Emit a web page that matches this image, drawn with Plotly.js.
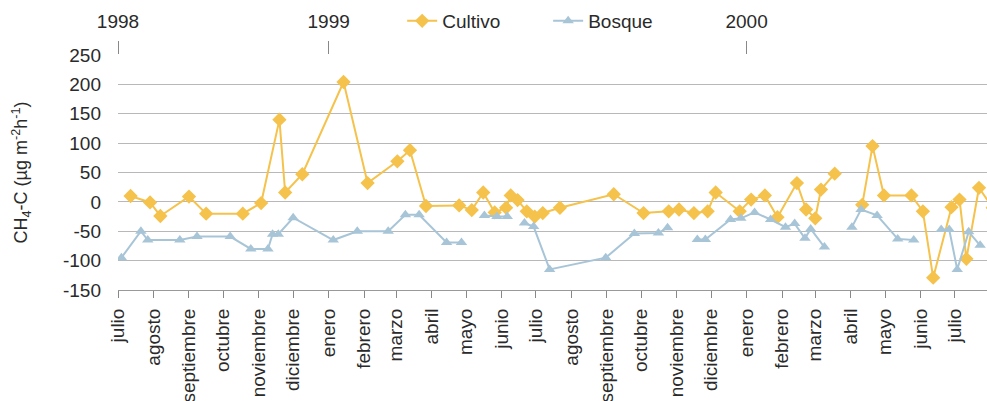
<!DOCTYPE html>
<html>
<head>
<meta charset="utf-8">
<script src="https://cdn.plot.ly/plotly-3.0.1.min.js"></script>
<style>
html,body{margin:0;padding:0;background:#fff;}
#chart{width:987px;height:401px;}
</style>
</head>
<body>
<div id="chart"></div>
<script>
// ---- data ----
const cultivoFechas = [
  "1998-07-12","1998-07-29","1998-08-07","1998-09-01","1998-09-16","1998-10-18","1998-11-03","1998-11-19","1998-11-24","1998-12-09",
  "1999-01-14","1999-02-04","1999-03-02","1999-03-13","1999-03-27","1999-04-25","1999-05-06","1999-05-16","1999-05-26","1999-06-05",
  "1999-06-09","1999-06-15","1999-06-23","1999-06-30","1999-07-07","1999-07-22","1999-09-07","1999-10-03","1999-10-25","1999-11-03",
  "1999-11-16","1999-11-28","1999-12-05","1999-12-26","2000-01-05","2000-01-17","2000-01-28","2000-02-14","2000-02-22","2000-03-01",
  "2000-03-06","2000-03-18","2000-03-30","2000-04-11","2000-04-20","2000-04-30","2000-05-24","2000-06-03","2000-06-12","2000-06-28",
  "2000-07-05","2000-07-11","2000-07-22","2000-08-03"
];
const cultivoValores = [
  10,-1,-24,9,-20,-20,-2,140,16,47,
  204,32,69,88,-7,-6,-14,16,-18,-10,
  11,3,-16,-25,-19,-10,13,-19,-16,-13,
  -19,-16,16,-16,4,11,-26,32,-13,-28,
  21,48,null,-5,95,11,11,-16,-129,-9,
  4,-97,24,-10
];
const bosqueFechas = [
  "1998-07-04","1998-07-21","1998-07-27","1998-08-24","1998-09-08","1998-10-07","1998-10-25","1998-11-09","1998-11-13","1998-11-18",
  "1998-12-01","1999-01-05","1999-01-26","1999-02-22","1999-03-09","1999-03-21","1999-04-14","1999-04-27","1999-05-07","1999-05-17",
  "1999-05-28","1999-06-06","1999-06-13","1999-06-21","1999-06-29","1999-07-13","1999-08-31","1999-09-25","1999-10-16","1999-10-24",
  "1999-11-05","1999-11-19","1999-11-26","1999-12-18","1999-12-27","2000-01-08","2000-01-22","2000-02-04","2000-02-12","2000-02-21",
  "2000-02-26","2000-03-09","2000-03-20","2000-04-02","2000-04-10","2000-04-24","2000-05-12","2000-05-26","2000-06-07","2000-06-19",
  "2000-06-26","2000-07-03","2000-07-13","2000-07-23"
];
const bosqueValores = [
  -95,-50,-65,-65,-59,-59,-80,-80,-55,-55,
  -27,-65,-50,-50,-22,-22,-69,-69,null,-23,
  -25,-25,null,-36,-42,-115,-95,-54,-53,-44,
  null,-64,-64,-30,-28,-18,-30,-43,-37,-62,
  -46,-77,null,-43,-13,-23,-63,-65,null,-47,
  -47,-115,-51,-74
];
const mesesFechas = [
  "1998-07-01","1998-08-01","1998-09-01","1998-10-01","1998-11-01","1998-12-01","1999-01-01","1999-02-01","1999-03-01","1999-04-01",
  "1999-05-01","1999-06-01","1999-07-01","1999-08-01","1999-09-01","1999-10-01","1999-11-01","1999-12-01","2000-01-01","2000-02-01",
  "2000-03-01","2000-04-01","2000-05-01","2000-06-01","2000-07-01"
];
const mesesNombres = [
  "julio","agosto","septiembre","octubre","noviembre","diciembre","enero","febrero","marzo","abril",
  "mayo","junio","julio","agosto","septiembre","octubre","noviembre","diciembre","enero","febrero",
  "marzo","abril","mayo","junio","julio"
];
const anosFechas = ["1998-07-01","1999-01-01","2000-01-01"];
const anosNombres = ["1998","1999","2000"];
const yTicks = [-150,-100,-50,0,50,100,150,200,250];

const FONT = "'Liberation Sans', Arial, sans-serif";
const TXT = "#2a2a2a";
const xRange = ["1998-07-01","2000-07-29"];

const traces = [
  {
    x: cultivoFechas, y: cultivoValores, name: "Cultivo",
    type: "scatter", mode: "lines+markers",
    line: {color: "#F5C24C", width: 2},
    marker: {symbol: "diamond", size: 11, color: "#F5C24C"},
    legend: "legend"
  },
  {
    x: bosqueFechas, y: bosqueValores, name: "Bosque",
    type: "scatter", mode: "lines+markers",
    line: {color: "#A8C5D8", width: 2},
    marker: {symbol: "triangle-up", size: 10, color: "#A8C5D8"},
    legend: "legend2"
  },
  {
    // carrier for the top (year) axis; draws nothing
    x: cultivoFechas, y: cultivoValores, xaxis: "x2", yaxis: "y",
    type: "scatter", mode: "none", showlegend: false, hoverinfo: "skip"
  }
];

const legendCommon = {
  orientation: "h", xanchor: "left", yanchor: "middle", y: 1.145,
  font: {family: FONT, size: 19, color: TXT}, bgcolor: "rgba(0,0,0,0)"
};

const layout = {
  width: 987, height: 401,
  margin: {l: 118, r: 0, t: 55, b: 111},
  paper_bgcolor: "#fff", plot_bgcolor: "#fff",
  font: {family: FONT, size: 19, color: TXT},
  showlegend: true,
  legend: Object.assign({}, legendCommon, {x: 0.327}),
  legend2: Object.assign({}, legendCommon, {x: 0.495}),
  xaxis: {
    type: "date", range: xRange, autorange: false,
    tickmode: "array", tickvals: mesesFechas, ticktext: mesesNombres,
    tickangle: -90, ticks: "outside", ticklen: 7, tickcolor: "#888", tickwidth: 1,
    showgrid: false, showline: true, linecolor: "#999", linewidth: 1,
    zeroline: false, ticklabelstandoff: 3,
    tickfont: {family: FONT, size: 19, color: TXT}
  },
  xaxis2: {
    type: "date", range: xRange, autorange: false, overlaying: "x", side: "top",
    tickmode: "array", tickvals: anosFechas, ticktext: anosNombres,
    ticks: "outside", ticklen: 13, tickcolor: "#888", tickwidth: 1,
    showgrid: false, showline: false, zeroline: false,
    ticklabelstandoff: 5,
    tickfont: {family: FONT, size: 19, color: TXT}
  },
  yaxis: {
    range: [-150, 250], autorange: false,
    tickmode: "array", tickvals: yTicks, ticktext: yTicks.map(String),
    showgrid: true, gridcolor: "#b8b8b8", gridwidth: 1,
    zeroline: false, showline: false,
    ticks: "", ticklabelstandoff: 16,
    tickfont: {family: FONT, size: 19, color: TXT},
    title: {text: "CH<sub>4</sub>-C (µg m<sup>-2</sup>h<sup>-1</sup>)", font: {family: FONT, size: 18, color: TXT}, standoff: 30}
  }
};

Plotly.newPlot("chart", traces, layout, {displayModeBar: false, staticPlot: true});
</script>
</body>
</html>
